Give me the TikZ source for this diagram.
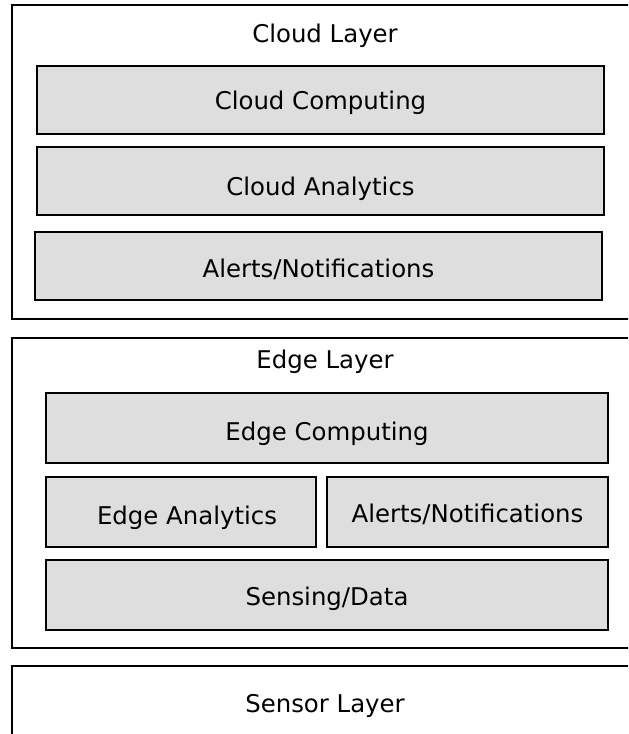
\documentclass[tikz,border=0pt]{standalone}
\usepackage{fontspec}
\setmainfont{DejaVu Sans}
\definecolor{boxgray}{RGB}{222,222,222}
\begin{document}
\begin{tikzpicture}[x=0.5pt,y=-0.5pt,
  layerbox/.style={draw=black,line width=1pt,fill=white,inner sep=0pt,outer sep=0pt,anchor=north west},
  compbox/.style={draw=black,line width=1pt,fill=boxgray,inner sep=0pt,outer sep=0pt,text depth=0pt,font=\fontsize{12.2}{14}\selectfont},
  titletext/.style={inner sep=0pt,anchor=base,font=\fontsize{12.2}{14}\selectfont}]
\useasboundingbox (0,0) rectangle (628,734);
\clip (0,0) rectangle (628,734);
% layers
\node[layerbox,minimum width=314pt,minimum height=157pt] (cloud) at (12,5) {};
\node[layerbox,minimum width=314pt,minimum height=155pt] (edge) at (12,338) {};
\node[layerbox,minimum width=314pt,minimum height=47pt] (sensor) at (12,666) {};
% titles
\node[titletext] (cloudt) at (325,42) {Cloud Layer};
\node[titletext] (edget) at (325,368) {Edge Layer};
\node[titletext] (sensort) at (325,712) {Sensor Layer};
% cloud components
\node[compbox,minimum width=283.5pt,minimum height=34pt,text height=9pt] (cc) at (320.5,100) {Cloud Computing};
\node[compbox,minimum width=283.5pt,minimum height=34pt,text height=14pt] (ca) at (320.5,181) {Cloud Analytics};
\node[compbox,minimum width=283.5pt,minimum height=34pt,text height=11pt] (can) at (318.5,266) {Alerts/Notifications};
% edge components
\node[compbox,minimum width=281pt,minimum height=35pt,text height=12pt] (ec) at (327,428) {Edge Computing};
\node[compbox,minimum width=135pt,minimum height=35pt,text height=12pt] (ea) at (181,512) {\hspace*{6pt}Edge Analytics};
\node[compbox,minimum width=140.5pt,minimum height=35pt,text height=10pt] (ean) at (467.5,512) {Alerts/Notifications};
\node[compbox,minimum width=281pt,minimum height=35pt,text height=10pt] (sd) at (327,595) {Sensing/Data};
\end{tikzpicture}
\end{document}
